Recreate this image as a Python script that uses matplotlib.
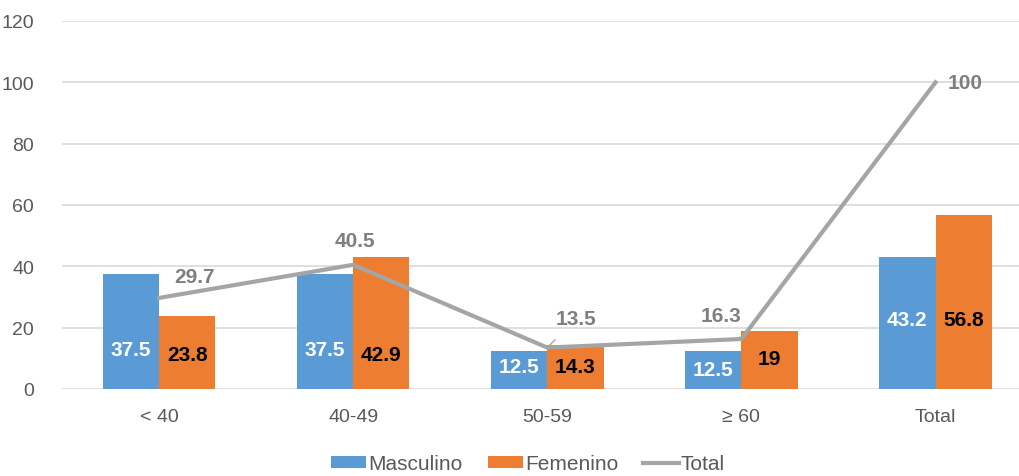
import matplotlib
matplotlib.use('Agg')
import matplotlib.pyplot as plt
import numpy as np

plt.rcParams['font.family'] = ['Liberation Sans', 'DejaVu Sans']

categories = ['< 40', '40-49', '50-59', '≥ 60', 'Total']
masculino = [37.5, 37.5, 12.5, 12.5, 43.2]
femenino = [23.8, 42.9, 14.3, 19, 56.8]
total = [29.7, 40.5, 13.5, 16.3, 100]

# where the bar labels sit (data units), set by hand like the original
lab_y_m = [13.0, 13.0, 7.2, 6.5, 22.8]
lab_y_f = [11.4, 11.4, 7.2, 9.8, 22.8]
# offsets of the line labels in pixels
tot_off = [(35, 21), (2, 24), (29, 29), (-20, 24), (30, 0)]
leader = [False, False, True, True, False]

c_blue = '#5B9BD5'
c_orange = '#ED7D31'
c_gray = '#A5A5A5'
c_text = '#595959'

fig = plt.figure(figsize=(10.19, 4.77), dpi=100)
ax = fig.add_axes([62 / 1019, 87 / 477, 1 - 62 / 1019, 368 / 477])

x = np.arange(len(categories))
w = 0.29
b1 = ax.bar(x - w / 2, masculino, w, color=c_blue, label='Masculino', zorder=2)
b2 = ax.bar(x + w / 2, femenino, w, color=c_orange, label='Femenino', zorder=2)
l1, = ax.plot(x, total, color=c_gray, lw=3, label='Total', zorder=3)

for i in range(len(x)):
    ax.text(x[i] - w / 2, lab_y_m[i], f'{masculino[i]:g}', ha='center', va='center',
            color='white', fontsize=15, fontweight='bold', zorder=4)
    ax.text(x[i] + w / 2, lab_y_f[i], f'{femenino[i]:g}', ha='center', va='center',
            color='black', fontsize=15, fontweight='bold', zorder=4)
    ap = dict(arrowstyle='-', color=c_gray, lw=1, shrinkA=9, shrinkB=0) if leader[i] else None
    ax.annotate(f'{total[i]:g}', (x[i], total[i]), xytext=tot_off[i],
                textcoords='offset pixels', ha='center', va='center',
                color='#7F7F7F', fontsize=15, fontweight='bold', arrowprops=ap, zorder=4)

ax.set_ylim(0, 120)
ax.set_xlim(-0.5, 4.43)
ax.set_yticks(range(0, 121, 20))
ax.set_xticks(x)
ax.set_xticklabels(categories)
ax.tick_params(axis='both', length=0, labelsize=14, colors=c_text)
ax.tick_params(axis='x', pad=14)
ax.tick_params(axis='y', pad=20)
ax.grid(axis='y', color='#D9D9D9', lw=1.2, zorder=0)
for s in ax.spines.values():
    s.set_visible(False)

fig.legend([b1, b2, l1], ['Masculino', 'Femenino', 'Total'], loc='center',
           bbox_to_anchor=(0.518, 12 / 477), ncol=3, frameon=False,
           fontsize=15, labelcolor=c_text, handlelength=1.7, handletextpad=0.1,
           columnspacing=1.2, handleheight=0.55)

fig.savefig('out.png', dpi=100)
